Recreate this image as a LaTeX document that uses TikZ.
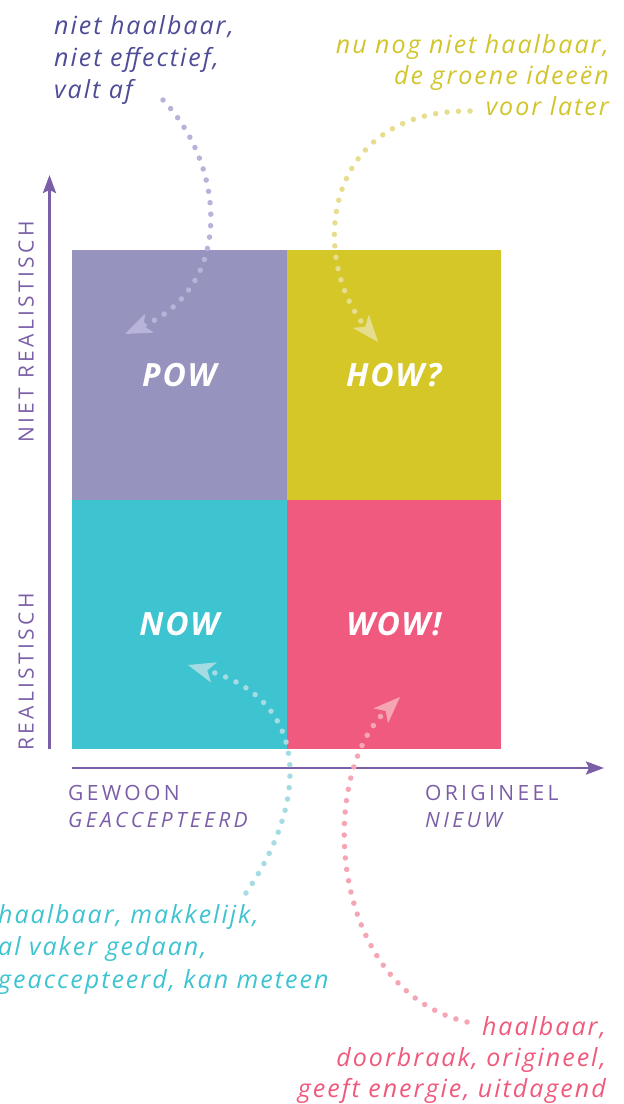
\documentclass[tikz,border=0pt]{standalone}
\usepackage{fontspec}
\setmainfont{Open Sans}
\newfontfamily\notefont[LetterSpace=8]{Open Sans}
\newfontfamily\capfont[LetterSpace=16]{Open Sans}
\newfontfamily\quadfont[LetterSpace=6]{Open Sans}
\usetikzlibrary{arrows.meta}
\definecolor{cpow}{HTML}{9693BE}
\definecolor{chow}{HTML}{D5C728}
\definecolor{cnow}{HTML}{3EC3D0}
\definecolor{cwow}{HTML}{F05A7E}
\definecolor{caxis}{HTML}{7B5EA8}
\definecolor{ctl}{HTML}{4E4C96}
\definecolor{ctr}{HTML}{D2C52C}
\definecolor{cbl}{HTML}{3EC3D0}
\definecolor{cbr}{HTML}{EF5A7C}
\definecolor{dpow}{HTML}{B7B3D9}
\definecolor{dhow}{HTML}{E7DD8E}
\definecolor{dnow}{HTML}{A5DCE3}
\definecolor{dwow}{HTML}{F6A5B4}
\begin{document}
\begin{tikzpicture}[x=1pt,y=-1pt,
  quad/.style={minimum width=214.5pt, minimum height=249.5pt, inner sep=0pt, outer sep=0pt,
    text=white, font=\fontsize{32}{32}\quadfont\bfseries\itshape},
  note/.style={inner sep=0pt, font=\fontsize{25}{32}\notefont\itshape},
  axislabel/.style={inner sep=0pt, text=caxis, font=\fontsize{21}{27}\capfont},
  axisline/.style={draw=caxis, line width=2.8pt, -{Stealth[length=18pt,width=13pt,inset=3pt]}},
  dots/.style={line width=5.5pt, line cap=round, dash pattern=on 0pt off 11.5pt,
    -{Stealth[length=27pt,width=21pt,inset=7pt,line width=0pt]}}
]
\useasboundingbox (0,0) rectangle (624,1104);
\clip (0,0) rectangle (624,1104);

% quadrants
\node[quad, fill=cpow] (pow) at (179.25,374.75) {POW};
\node[quad, fill=chow] (how) at (393.75,374.75) {HOW?};
\node[quad, fill=cnow] (now) at (179.25,624.25) {NOW};
\node[quad, fill=cwow] (wow) at (393.75,624.25) {WOW!};

% axes
\coordinate (yb) at (49.5,749);
\coordinate (yt) at (49.5,175);
\coordinate (xb) at (72,768);
\coordinate (xe) at (604,768);
\draw[axisline] (yb) -- (yt);
\draw[axisline] (xb) -- (xe);

% axis labels
\node[axislabel, rotate=90, anchor=base] (nietreal) at (33.5,332) {NIET REALISTISCH};
\node[axislabel, rotate=90, anchor=base] (real) at (33.5,672) {REALISTISCH};
\node[axislabel, anchor=base west] (gewoon) at (68,800) {GEWOON};
\node[axislabel, anchor=base west] (geacc) at (68,827) {\itshape GEACCEPTEERD};
\node[axislabel, anchor=base west] (orig) at (425,800) {ORIGINEEL};
\node[axislabel, anchor=base west] (nieuw) at (425,827) {\itshape NIEUW};

% notes (base anchor = baseline of the last line)
\node[note, text=ctl, align=left, anchor=base west] (tl) at (54,98)
  {niet haalbaar,\\niet effectief,\\valt af};
\node[note, text=ctr, align=right, anchor=base east, font=\fontsize{25}{31}\notefont\itshape] (tr) at (609,115)
  {nu nog niet haalbaar,\\de groene ideeën\hspace{6pt}\\voor later};
\node[note, text=cbl, align=left, anchor=base west, font=\fontsize{25}{32.5}\notefont\itshape] (bl) at (-2,988)
  {haalbaar, makkelijk,\\al vaker gedaan,\\geaccepteerd, kan meteen};
\node[note, text=cbr, align=right, anchor=base east, font=\fontsize{25}{31}\notefont\itshape] (br) at (606,1097)
  {haalbaar,\\doorbraak, origineel,\\geeft energie, uitdagend\hspace{10pt}};

% dotted arrows
\coordinate (p1s) at (163,100);
\coordinate (p1e) at (125,334);
\coordinate (p2s) at (470,111);
\coordinate (p2e) at (378,342);
\coordinate (p3s) at (246,893);
\coordinate (p3e) at (188,665);
\coordinate (p4s) at (467,1022);
\coordinate (p4e) at (400,697);
\draw[dots, dpow] (p1s) .. controls (225,165) and (235,285) .. (p1e);
\draw[dots, dhow] (p2s) .. controls (320,110) and (310,260) .. (p2e);
\draw[dots, dnow] (p3s) .. controls (310,800) and (310,700) .. (p3e);
\draw[dots, dwow] (p4s) .. controls (330,990) and (315,780) .. (p4e);
\end{tikzpicture}
\end{document}
